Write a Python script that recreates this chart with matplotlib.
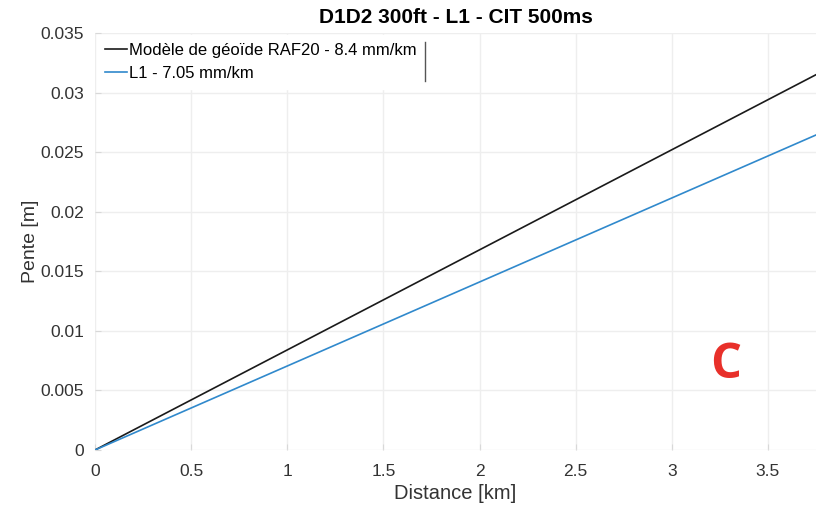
import matplotlib
matplotlib.use("Agg")
import matplotlib.pyplot as plt
from matplotlib.lines import Line2D

plt.rcParams['font.family'] = ['Liberation Sans', 'DejaVu Sans']

distance_km = [0.0, 3.75]
pente_raf20 = [0.0, 0.0315]
pente_l1 = [0.0, 0.02644]
label_raf20 = "Modèle de géoïde RAF20 - 8.4 mm/km"
label_l1 = "L1 - 7.05 mm/km"
xticks = [0, 0.5, 1, 1.5, 2, 2.5, 3, 3.5]
xticklabels = ["0", "0.5", "1", "1.5", "2", "2.5", "3", "3.5"]
yticks = [0, 0.005, 0.01, 0.015, 0.02, 0.025, 0.03, 0.035]
yticklabels = ["0", "0.005", "0.01", "0.015", "0.02", "0.025", "0.03", "0.035"]

fig = plt.figure(figsize=(8.17, 5.08), dpi=100)
ax = fig.add_axes([95/817, 1-450/508, (816-95)/817, (450-33)/508])

ax.plot(distance_km, pente_raf20, color='#1a1a1a', lw=1.2, label=label_raf20)
ax.plot(distance_km, pente_l1, color='#3089cc', lw=1.2, label=label_l1)

ax.set_xlim(0, 3.75)
ax.set_ylim(0, 0.035)
ax.set_xticks(xticks)
ax.set_xticklabels(xticklabels)
ax.set_yticks(yticks)
ax.set_yticklabels(yticklabels)
ax.grid(True, color='#eeeeee', lw=1.0)
ax.set_axisbelow(True)
for s in ax.spines.values():
    s.set_visible(False)
ax.tick_params(axis='both', direction='in', length=4, color='#d8d8d8',
               labelsize=12.5, labelcolor='#333333')
ax.tick_params(axis='x', pad=10)
ax.tick_params(axis='y', pad=8)

ax.set_xlabel("Distance [km]", fontsize=14.5, color='#333333', labelpad=4)
ax.set_ylabel("Pente [m]", fontsize=14, color='#333333', labelpad=1)
ax.set_title("D1D2 300ft - L1 - CIT 500ms", fontsize=15, fontweight='bold',
             color='#000000', pad=7)

leg = ax.legend(loc='upper left', fontsize=12, frameon=True, fancybox=False,
                handlelength=1.3, handletextpad=0.15, borderpad=0.5,
                labelspacing=0.45, borderaxespad=0.1)
leg.get_frame().set_edgecolor('white')
leg.get_frame().set_facecolor('white')
leg.get_frame().set_alpha(1.0)
# right edge of the legend box
fig.canvas.draw()
bb = leg.get_window_extent().transformed(fig.transFigure.inverted())
fig.add_artist(Line2D([bb.x1, bb.x1], [bb.y0 + 0.015, bb.y1 - 0.015],
                      transform=fig.transFigure, color='#555555', lw=1.0))

fig.text(726/817, 1-366/508, "C", color='#e8302a', fontsize=35,
         fontweight='bold', family='Open Sans', ha='center', va='center')

fig.savefig("out.png", dpi=100)
